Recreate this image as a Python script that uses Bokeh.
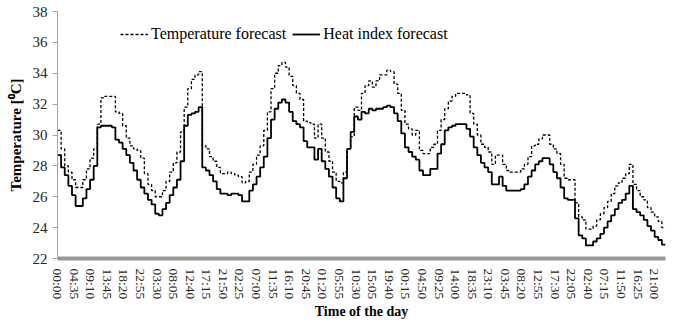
from bokeh.plotting import figure
from bokeh.models import Range1d, FixedTicker, Legend, LegendItem
from bokeh.embed import file_html
from bokeh.resources import INLINE

# x tick labels (every 275 minutes)
time_labels = ["00:00", "04:35", "09:10", "13:45", "18:20", "22:55", "03:30", "08:05",
               "12:40", "17:15", "21:50", "02:25", "07:00", "11:35", "16:10", "20:45",
               "01:20", "05:55", "10:30", "15:05", "19:40", "00:15", "04:50", "09:25",
               "14:00", "18:35", "23:10", "03:45", "08:20", "12:55", "17:30", "22:05",
               "02:40", "07:15", "11:50", "16:25", "21:00"]
label_step_min = 275
data_step_min = 60

# hourly temperature forecast (°C), 7 days
temperature = [
    30.3, 29.1, 28.0, 27.6, 27.1, 26.6, 26.6, 27.1, 27.8, 28.5, 29.1, 30.7,
    32.4, 32.5, 32.5, 32.5, 31.5, 31.4, 30.6, 29.8, 29.3, 29.1, 29.0, 28.5,
    27.5, 26.8, 26.4, 26.0, 26.0, 26.4, 27.0, 27.6, 28.2, 28.9, 30.2, 31.8,
    33.0, 33.6, 33.9, 34.1, 29.3, 29.1, 28.6, 28.3, 27.9, 27.5, 27.5, 27.6,
    27.5, 27.4, 27.3, 26.9, 27.0, 27.6, 28.1, 28.7, 29.3, 30.3, 31.5, 33.0,
    34.0, 34.5, 34.7, 34.4, 33.8, 33.2, 32.7, 32.3, 30.9, 30.8, 30.7, 29.8,
    30.7, 29.8, 28.9, 28.3, 27.6, 27.0, 26.9, 27.6, 29.1, 29.9, 31.8, 31.6,
    32.7, 33.2, 33.5, 33.1, 33.5, 33.9, 33.9, 34.2, 34.1, 33.3, 32.7, 31.6,
    30.7, 30.4, 30.0, 30.3, 29.0, 28.8, 28.8, 29.2, 29.4, 30.3, 31.0, 31.7,
    32.2, 32.5, 32.7, 32.7, 32.7, 32.6, 31.4, 30.7, 30.0, 29.4, 29.2, 28.9,
    28.1, 28.7, 28.7, 28.1, 27.7, 27.6, 27.6, 27.6, 27.8, 28.1, 28.6, 29.3,
    29.4, 29.75, 30.0, 30.0, 29.4, 29.1, 28.8, 28.1, 27.2, 27.1, 27.1, 25.6,
    24.7, 24.5, 23.9, 23.9, 24.1, 24.5, 24.9, 25.3, 25.7, 26.2, 26.7, 26.9,
    27.2, 27.5, 28.1, 26.8, 26.4, 26.0, 25.8, 25.3, 25.0, 24.7, 24.4, 24.0,
]

# hourly heat index forecast (°C), 7 days
heat_index = [
    28.7, 27.9, 27.4, 26.7, 26.1, 25.4, 25.4, 25.9, 26.5, 27.1, 28.0, 30.5,
    30.6, 30.6, 30.6, 30.5, 29.7, 29.5, 29.1, 28.7, 28.2, 27.7, 27.1, 26.6,
    26.2, 25.8, 25.5, 24.9, 24.8, 25.2, 25.6, 26.1, 26.6, 27.1, 28.3, 30.6,
    31.3, 31.4, 31.5, 31.8, 27.9, 27.7, 27.4, 27.0, 26.5, 26.2, 26.2, 26.1,
    26.2, 26.2, 26.1, 25.7, 25.7, 26.4, 26.8, 27.3, 27.9, 28.6, 29.8, 31.0,
    31.7, 32.1, 32.3, 32.1, 31.5, 30.9, 30.7, 30.5, 29.6, 29.2, 29.2, 28.4,
    29.1, 28.3, 27.8, 27.3, 26.6, 25.9, 25.7, 27.2, 29.1, 30.2, 31.2, 31.0,
    31.5, 31.4, 31.7, 31.6, 31.7, 31.7, 31.8, 31.9, 31.8, 31.4, 30.9, 30.1,
    29.2, 28.9, 28.6, 28.4, 27.7, 27.4, 27.4, 27.8, 27.8, 28.8, 29.4, 30.3,
    30.5, 30.6, 30.7, 30.7, 30.7, 30.4, 29.9, 29.2, 28.7, 28.2, 27.9, 27.6,
    26.8, 26.8, 27.3, 26.7, 26.4, 26.4, 26.4, 26.4, 26.5, 26.8, 27.3, 27.7,
    28.1, 28.3, 28.5, 28.5, 28.1, 27.6, 27.2, 26.6, 25.9, 25.8, 25.8, 24.6,
    23.5, 23.3, 22.85, 22.85, 23.1, 23.3, 23.6, 24.0, 24.4, 24.8, 25.2, 25.6,
    25.8, 26.2, 26.7, 25.2, 25.0, 24.8, 24.5, 24.1, 23.8, 23.4, 23.2, 22.9,
]

n = len(temperature)
xs = [i * data_step_min for i in range(n + 1)]
t_ext = temperature + temperature[-1:]
h_ext = heat_index + heat_index[-1:]

SERIF = "Liberation Serif"

p = figure(width=675, height=324, output_backend="svg", toolbar_location=None,
           x_range=Range1d(0, n * data_step_min), y_range=Range1d(22, 38),
           min_border_left=57, min_border_right=10, min_border_top=11,
           min_border_bottom=66, background_fill_color="white",
           border_fill_color="white")
p.outline_line_color = None
p.grid.visible = False

r_t = p.step(xs, t_ext, mode="after", line_color="black", line_width=1.3,
             line_dash="3 2")
r_h = p.step(xs, h_ext, mode="after", line_color="black", line_width=1.8)

# x axis
xa = p.xaxis[0]
xa.ticker = FixedTicker(ticks=[i * label_step_min for i in range(len(time_labels))])
xa.major_label_overrides = {i * label_step_min: lab for i, lab in enumerate(time_labels)}
xa.major_label_orientation = "vertical"
xa.major_label_text_font = SERIF
xa.major_label_text_font_size = "13.5px"
xa.major_label_text_color = "#262626"
xa.major_label_standoff = 4
xa.major_tick_line_color = None
xa.minor_tick_line_color = None
xa.axis_line_color = "#979797"
xa.axis_line_width = 4
xa.axis_label = "Time of the day"
xa.axis_label_text_font = SERIF
xa.axis_label_text_font_style = "bold"
xa.axis_label_text_font_size = "14px"
xa.axis_label_text_color = "black"
xa.axis_label_standoff = 2

# y axis
ya = p.yaxis[0]
ya.ticker = FixedTicker(ticks=list(range(22, 39, 2)))
ya.major_label_text_font = SERIF
ya.major_label_text_font_size = "15px"
ya.major_label_text_color = "#262626"
ya.major_label_standoff = 5
ya.major_tick_out = 5
ya.major_tick_in = 0
ya.major_tick_line_color = "#a6a6a6"
ya.minor_tick_line_color = None
ya.axis_line_color = "#a6a6a6"
ya.axis_line_width = 1
ya.axis_label = "Temperature [\u2070C]"
ya.axis_label_text_font = SERIF
ya.axis_label_text_font_style = "bold"
ya.axis_label_text_font_size = "15px"
ya.axis_label_text_color = "black"
ya.axis_label_standoff = 6

legend = Legend(items=[LegendItem(label="Temperature forecast", renderers=[r_t]),
                       LegendItem(label="Heat index forecast", renderers=[r_h])],
                orientation="horizontal", location=(63, 215))
legend.padding = 0
legend.margin = 0
legend.spacing = 6
legend.glyph_width = 28
legend.glyph_height = 16
legend.label_height = 16
legend.label_standoff = 3
legend.label_text_font = SERIF
legend.label_text_font_size = "16px"
legend.label_text_color = "black"
legend.border_line_color = None
legend.background_fill_alpha = 0
p.add_layout(legend, "center")

open("out.html", "w").write(file_html(p, INLINE))
